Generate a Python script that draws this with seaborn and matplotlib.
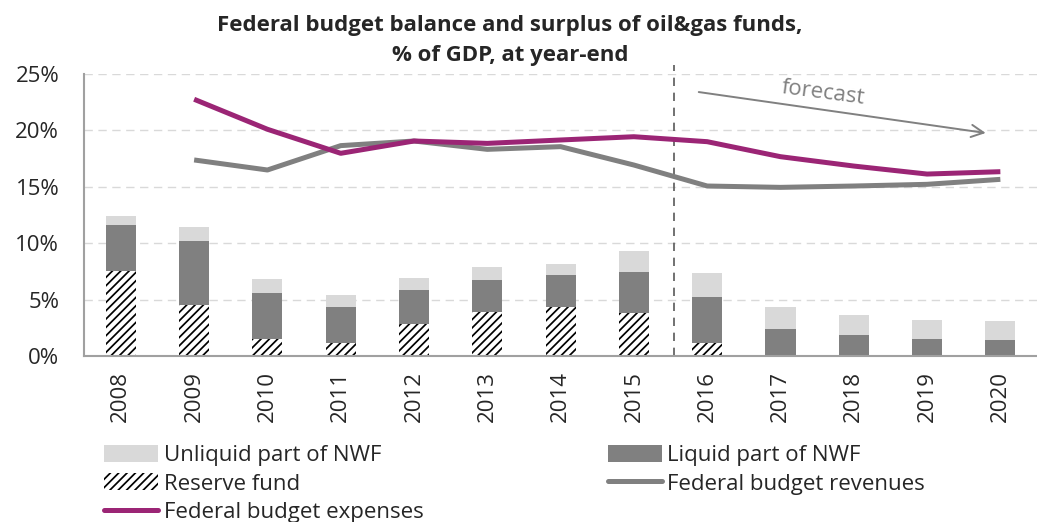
import numpy as np
import pandas as pd
import matplotlib
matplotlib.use("Agg")
import matplotlib.pyplot as plt
import seaborn as sns
from matplotlib.patches import Patch
from matplotlib.lines import Line2D

# ---- data (% of GDP) ----
years = [str(y) for y in range(2008, 2021)]
reserve_fund = [7.54, 4.52, 1.51, 1.18, 2.84, 3.87, 4.31, 3.84, 1.18, 0, 0, 0, 0]
liquid_nwf = [4.10, 5.68, 4.08, 3.16, 3.01, 2.90, 2.87, 3.61, 4.08, 2.42, 1.86, 1.51, 1.45]
unliquid_nwf = [0.80, 1.20, 1.24, 1.07, 1.06, 1.12, 0.98, 1.83, 2.07, 1.92, 1.80, 1.71, 1.65]
line_years = [str(y) for y in range(2009, 2021)]
revenues = [17.38, 16.49, 18.65, 19.06, 18.32, 18.56, 16.93, 15.07, 14.95, 15.07, 15.22, 15.66]
expenses = [22.76, 20.10, 17.97, 19.06, 18.85, 19.15, 19.44, 19.00, 17.67, 16.84, 16.13, 16.34]

sns.set_style("white")
plt.rcParams['font.family'] = ['Open Sans', 'DejaVu Sans']
plt.rcParams['hatch.linewidth'] = 1.25

C_UNLIQ = '#d9d9d9'
C_LIQ = '#808080'
C_REV = '#808080'
C_EXP = '#9b2575'
FS = 16

bars = pd.DataFrame({
    'year': years,
    'reserve': reserve_fund,
    'liquid_top': np.array(reserve_fund) + np.array(liquid_nwf),
    'total': np.array(reserve_fund) + np.array(liquid_nwf) + np.array(unliquid_nwf),
})
pos = {y: i for i, y in enumerate(years)}
lines = pd.DataFrame({
    'x': [pos[y] for y in line_years],
    'revenues': revenues,
    'expenses': expenses,
})

fig = plt.figure(figsize=(10.37, 5.22), dpi=100)
ax = fig.add_axes([84.2 / 1037, 1 - 356 / 522, 1 - 84.2 / 1037, (356 - 74) / 522])

W = 0.41
HATCH = '////'
sns.barplot(data=bars, x='year', y='total', order=years, color=C_UNLIQ, saturation=1,
            width=W, errorbar=None, linewidth=0, ax=ax)
sns.barplot(data=bars, x='year', y='liquid_top', order=years, color=C_LIQ, saturation=1,
            width=W, errorbar=None, linewidth=0, ax=ax)
sns.barplot(data=bars, x='year', y='reserve', order=years, color='white', saturation=1,
            width=W, errorbar=None, linewidth=0, edgecolor='black', hatch=HATCH, ax=ax)

sns.lineplot(data=lines, x='x', y='revenues', color=C_REV, linewidth=3.6, ax=ax,
             solid_capstyle='butt')
sns.lineplot(data=lines, x='x', y='expenses', color=C_EXP, linewidth=3.6, ax=ax,
             solid_capstyle='butt')

ax.set_xlim(-0.5, 12.41)
ax.set_ylim(0, 25)
ax.set_yticks([0, 5, 10, 15, 20, 25])
ax.set_yticklabels(['0%', '5%', '10%', '15%', '20%', '25%'], fontsize=FS)
ax.set_xticks(range(len(years)))
ax.set_xticklabels(years, rotation=90, fontsize=FS)
ax.set_xticks(np.arange(-0.5, len(years), 1), minor=True)
ax.tick_params(axis='x', which='major', length=0, pad=11)
ax.tick_params(axis='x', which='minor', length=8, color='#a0a0a0', width=1.2)
ax.tick_params(axis='y', length=7, color='#a0a0a0', width=1.2, pad=11)
ax.set_xlabel('')
ax.set_ylabel('')
ax.yaxis.grid(True, linestyle=(0, (6, 4)), color='#d9d9d9', linewidth=1)
ax.set_axisbelow(True)
for s in ['top', 'right']:
    ax.spines[s].set_visible(False)
for s in ['left', 'bottom']:
    ax.spines[s].set_color('#a0a0a0')
    ax.spines[s].set_linewidth(1.5)

# forecast marker
ax.axvline(7.546, ymin=0, ymax=25.8 / 25, color='#595959', linestyle=(0, (5, 4)),
           linewidth=1.2, clip_on=False, zorder=1)
ax.annotate('', xy=(11.80, 19.77), xytext=(7.885, 23.4),
            arrowprops=dict(arrowstyle='->', color='#808080', lw=1.4,
                            mutation_scale=22, shrinkA=0, shrinkB=0),
            annotation_clip=False)
ax.text(9.58, 23.3, 'forecast', color='#808080', fontsize=FS, rotation=-7.5,
        ha='center', va='center')

fig.text(0.492, 1 - 25 / 522, 'Federal budget balance and surplus of oil&gas funds,',
         ha='center', va='center', fontsize=FS, fontweight='bold')
fig.text(0.492, 1 - 56 / 522, '% of GDP, at year-end',
         ha='center', va='center', fontsize=FS, fontweight='bold')

handles = [
    Patch(facecolor=C_UNLIQ, edgecolor='none'),
    Patch(facecolor='white', edgecolor='black', hatch=HATCH, linewidth=0),
    Line2D([], [], color=C_EXP, linewidth=3.6),
    Patch(facecolor=C_LIQ, edgecolor='none'),
    Line2D([], [], color=C_REV, linewidth=3.6),
]
labels = ['Unliquid part of NWF', 'Reserve fund', 'Federal budget expenses',
          'Liquid part of NWF', 'Federal budget revenues']
fig.legend(handles, labels, ncol=2, loc='upper left', bbox_to_anchor=(104 / 1037, 1 - 445 / 522),
           frameon=False, fontsize=FS, handlelength=2.45, handleheight=0.8,
           handletextpad=0.23, columnspacing=8.3, labelspacing=0.32,
           borderpad=0, borderaxespad=0)

fig.savefig('out.png', dpi=100)
